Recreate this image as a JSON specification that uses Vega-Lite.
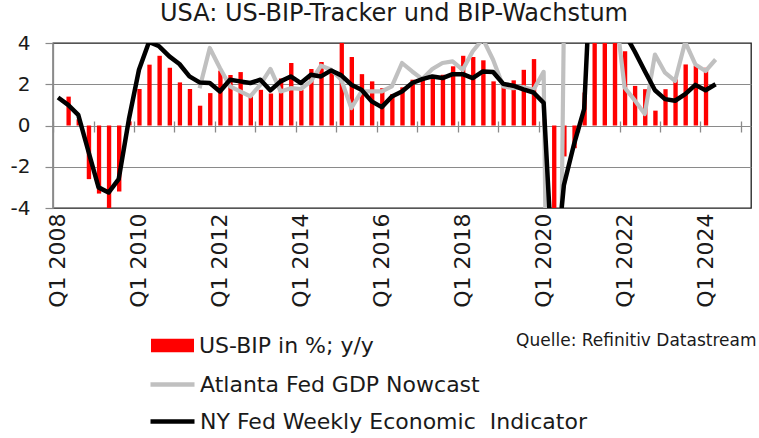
{
  "$schema": "https://vega.github.io/schema/vega-lite/v6.json",
  "width": 698,
  "height": 165,
  "autosize": {"type": "none"},
  "padding": {"left": 53, "top": 43, "right": 8, "bottom": 230},
  "background": "white",
  "config": {
    "font": "DejaVu Sans",
    "view": {"stroke": "#1e1e1e", "strokeWidth": 1.3},
    "axis": {"labelFont": "DejaVu Sans", "titleFont": "DejaVu Sans"},
    "legend": {"labelFont": "DejaVu Sans"}
  },
  "title": {
    "text": "USA: US-BIP-Tracker und BIP-Wachstum",
    "font": "DejaVu Sans",
    "fontSize": 24,
    "fontWeight": "normal",
    "color": "#1a1a1a",
    "anchor": "middle",
    "dx": -8,
    "offset": 7
  },
  "data": {
    "values": [
      {"q": "2008-01-01", "gdp": null, "atl": null, "wei": 1.36},
      {"q": "2008-04-01", "gdp": 1.4, "atl": null, "wei": 1.0},
      {"q": "2008-07-01", "gdp": 0.3, "atl": null, "wei": 0.52},
      {"q": "2008-10-01", "gdp": -2.6, "atl": null, "wei": -1.26},
      {"q": "2009-01-01", "gdp": -3.3, "atl": null, "wei": -3.0},
      {"q": "2009-04-01", "gdp": -4.0, "atl": null, "wei": -3.25},
      {"q": "2009-07-01", "gdp": -3.2, "atl": null, "wei": -2.6},
      {"q": "2009-10-01", "gdp": 0.2, "atl": null, "wei": 0.3},
      {"q": "2010-01-01", "gdp": 1.77, "atl": null, "wei": 2.7},
      {"q": "2010-04-01", "gdp": 2.95, "atl": null, "wei": 4.05},
      {"q": "2010-07-01", "gdp": 3.38, "atl": null, "wei": 3.84},
      {"q": "2010-10-01", "gdp": 2.8, "atl": null, "wei": 3.35},
      {"q": "2011-01-01", "gdp": 2.09, "atl": null, "wei": 2.98},
      {"q": "2011-04-01", "gdp": 1.77, "atl": null, "wei": 2.38},
      {"q": "2011-07-01", "gdp": 0.96, "atl": 1.81, "wei": 2.09},
      {"q": "2011-10-01", "gdp": 1.57, "atl": 3.76, "wei": 2.06},
      {"q": "2012-01-01", "gdp": 2.66, "atl": 2.79, "wei": 1.65},
      {"q": "2012-04-01", "gdp": 2.45, "atl": 1.9, "wei": 2.22},
      {"q": "2012-07-01", "gdp": 2.59, "atl": 1.65, "wei": 2.14},
      {"q": "2012-10-01", "gdp": 1.5, "atl": 1.41, "wei": 2.06},
      {"q": "2013-01-01", "gdp": 1.73, "atl": 1.98, "wei": 2.22},
      {"q": "2013-04-01", "gdp": 1.55, "atl": 2.74, "wei": 1.7},
      {"q": "2013-07-01", "gdp": 2.28, "atl": 1.65, "wei": 2.14},
      {"q": "2013-10-01", "gdp": 3.03, "atl": 1.81, "wei": 2.38},
      {"q": "2014-01-01", "gdp": 1.73, "atl": 1.77, "wei": 2.06},
      {"q": "2014-04-01", "gdp": 2.74, "atl": 2.14, "wei": 2.46},
      {"q": "2014-07-01", "gdp": 3.08, "atl": 2.9, "wei": 2.38},
      {"q": "2014-10-01", "gdp": 2.54, "atl": 2.7, "wei": 2.67},
      {"q": "2015-01-01", "gdp": 4.0, "atl": 2.22, "wei": 2.43},
      {"q": "2015-04-01", "gdp": 3.32, "atl": 0.84, "wei": 1.98},
      {"q": "2015-07-01", "gdp": 2.49, "atl": 1.65, "wei": 1.73},
      {"q": "2015-10-01", "gdp": 2.14, "atl": 1.65, "wei": 1.17},
      {"q": "2016-01-01", "gdp": 1.81, "atl": 1.65, "wei": 0.89},
      {"q": "2016-04-01", "gdp": 1.52, "atl": 1.9, "wei": 1.41},
      {"q": "2016-07-01", "gdp": 1.85, "atl": 3.03, "wei": 1.65},
      {"q": "2016-10-01", "gdp": 2.22, "atl": 2.62, "wei": 2.06},
      {"q": "2017-01-01", "gdp": 2.22, "atl": 2.25, "wei": 2.25},
      {"q": "2017-04-01", "gdp": 2.38, "atl": 2.74, "wei": 2.38},
      {"q": "2017-07-01", "gdp": 2.46, "atl": 3.03, "wei": 2.3},
      {"q": "2017-10-01", "gdp": 2.87, "atl": 3.11, "wei": 2.49},
      {"q": "2018-01-01", "gdp": 3.38, "atl": 2.7, "wei": 2.49},
      {"q": "2018-04-01", "gdp": 3.32, "atl": 3.6, "wei": 2.3},
      {"q": "2018-07-01", "gdp": 3.16, "atl": 4.2, "wei": 2.62},
      {"q": "2018-10-01", "gdp": 2.14, "atl": 3.19, "wei": 2.59},
      {"q": "2019-01-01", "gdp": 1.86, "atl": 1.9, "wei": 2.02},
      {"q": "2019-04-01", "gdp": 2.19, "atl": 1.81, "wei": 1.93},
      {"q": "2019-07-01", "gdp": 2.7, "atl": 1.86, "wei": 1.75},
      {"q": "2019-10-01", "gdp": 3.22, "atl": 1.73, "wei": 1.6},
      {"q": "2020-01-01", "gdp": 0.3, "atl": 2.6, "wei": 1.1},
      {"q": "2020-04-01", "gdp": -9.1, "atl": -37, "wei": -8},
      {"q": "2020-07-01", "gdp": -1.5, "atl": 5, "wei": -2.9},
      {"q": "2020-10-01", "gdp": -1.1, "atl": 9, "wei": -0.9},
      {"q": "2021-01-01", "gdp": 1.6, "atl": 8, "wei": 0.8},
      {"q": "2021-04-01", "gdp": 12.2, "atl": 8, "wei": 11},
      {"q": "2021-07-01", "gdp": 4.9, "atl": 6, "wei": 7},
      {"q": "2021-10-01", "gdp": 5.4, "atl": 6, "wei": 5.5},
      {"q": "2022-01-01", "gdp": 3.6, "atl": 1.84, "wei": 4.47},
      {"q": "2022-04-01", "gdp": 1.92, "atl": 1.23, "wei": 3.6},
      {"q": "2022-07-01", "gdp": 1.76, "atl": 0.56, "wei": 2.64},
      {"q": "2022-10-01", "gdp": 0.72, "atl": 3.44, "wei": 1.71},
      {"q": "2023-01-01", "gdp": 1.76, "atl": 2.56, "wei": 1.28},
      {"q": "2023-04-01", "gdp": 2.24, "atl": 2.16, "wei": 1.2},
      {"q": "2023-07-01", "gdp": 2.96, "atl": 4.05, "wei": 1.52},
      {"q": "2023-10-01", "gdp": 2.9, "atl": 2.96, "wei": 1.97},
      {"q": "2024-01-01", "gdp": 2.8, "atl": 2.64, "wei": 1.71},
      {"q": "2024-04-01", "gdp": null, "atl": 3.2, "wei": 2.0}
    ]
  },
  "layer": [
    {
      "mark": {"type": "bar", "color": "#ff0000", "clip": true, "width": {"band": 0.53}},
      "encoding": {
        "x": {
          "field": "q", "type": "temporal", "timeUnit": "utcyearquarter", "bandPosition": 0.5,
          "scale": {"domain": [{"year": 2008, "month": 1, "date": 1, "utc": true}, {"year": 2025, "month": 4, "date": 1, "utc": true}]},
          "axis": {
            "orient": "bottom",
            "values": [
              {"year": 2008, "month": 1, "date": 1, "utc": true}, {"year": 2009, "month": 1, "date": 1, "utc": true},
              {"year": 2010, "month": 1, "date": 1, "utc": true}, {"year": 2011, "month": 1, "date": 1, "utc": true},
              {"year": 2012, "month": 1, "date": 1, "utc": true}, {"year": 2013, "month": 1, "date": 1, "utc": true},
              {"year": 2014, "month": 1, "date": 1, "utc": true}, {"year": 2015, "month": 1, "date": 1, "utc": true},
              {"year": 2016, "month": 1, "date": 1, "utc": true}, {"year": 2017, "month": 1, "date": 1, "utc": true},
              {"year": 2018, "month": 1, "date": 1, "utc": true}, {"year": 2019, "month": 1, "date": 1, "utc": true},
              {"year": 2020, "month": 1, "date": 1, "utc": true}, {"year": 2021, "month": 1, "date": 1, "utc": true},
              {"year": 2022, "month": 1, "date": 1, "utc": true}, {"year": 2023, "month": 1, "date": 1, "utc": true},
              {"year": 2024, "month": 1, "date": 1, "utc": true}, {"year": 2025, "month": 1, "date": 1, "utc": true}
            ],
            "offset": -87,
            "domain": false,
            "labels": false,
            "grid": false,
            "ticks": true,
            "tickSize": 11,
            "tickColor": "#8a8a8a",
            "tickWidth": 1.3,
            "title": null
          }
        },
        "y": {
          "field": "gdp", "type": "quantitative",
          "scale": {"domain": [-4, 4], "nice": false},
          "axis": {
            "values": [-4, -2, 0, 2, 4],
            "labelExpr": "datum.value < 0 ? '-' + abs(datum.value) : '' + datum.value",
            "title": null,
            "grid": true,
            "gridColor": "#8a8a8a",
            "gridOpacity": {"condition": {"test": "abs(datum.value) == 4", "value": 0}, "value": 1},
            "gridWidth": 1.2,
            "domainColor": "#8a8a8a",
            "domainWidth": 1.3,
            "tickColor": "#8a8a8a",
            "tickWidth": 1.2,
            "tickSize": 8,
            "labelFontSize": 20,
            "labelColor": "#1a1a1a",
            "labelPadding": 15
          }
        },
        "fill": {
          "datum": "US-BIP in %; y/y",
          "scale": {"range": ["#ff0000"]},
          "legend": {
            "orient": "none", "legendX": 98, "legendY": 281, "title": null, "padding": 0,
            "symbolType": "M-1,-0.31H1V0.31H-1Z", "symbolSize": 1849, "symbolStrokeWidth": 0,
            "labelFontSize": 22, "labelOffset": 5, "labelColor": "#1a1a1a", "labelLimit": 600
          }
        }
      }
    },
    {
      "mark": {"type": "line", "clip": true, "strokeWidth": 4.2, "strokeJoin": "round"},
      "encoding": {
        "x": {
          "field": "q", "type": "temporal", "timeUnit": "utcyearquarter", "bandPosition": 0.5,
          "axis": {
            "orient": "bottom",
            "values": [
              {"year": 2008, "month": 2, "date": 15, "utc": true}, {"year": 2010, "month": 2, "date": 15, "utc": true},
              {"year": 2012, "month": 2, "date": 15, "utc": true}, {"year": 2014, "month": 2, "date": 15, "utc": true},
              {"year": 2016, "month": 2, "date": 15, "utc": true}, {"year": 2018, "month": 2, "date": 15, "utc": true},
              {"year": 2020, "month": 2, "date": 15, "utc": true}, {"year": 2022, "month": 2, "date": 15, "utc": true},
              {"year": 2024, "month": 2, "date": 15, "utc": true}
            ],
            "labelExpr": "'Q1 ' + utcFormat(datum.value, '%Y')",
            "labelAngle": -90,
            "labelAlign": "right",
            "labelBaseline": "middle",
            "labelFontSize": 22,
            "labelColor": "#1a1a1a",
            "labelPadding": 5,
            "labelFlush": false,
            "labelOverlap": false,
            "labelBound": false,
            "ticks": false,
            "domain": false,
            "grid": false,
            "title": "Quelle: Refinitiv Datastream",
            "titleFontSize": 17,
            "titleFontWeight": "normal",
            "titleColor": "#1a1a1a",
            "titleAnchor": "end",
            "titleAlign": "right",
            "titleBaseline": "top",
            "titlePadding": 25,
            "titleX": 703
          }
        },
        "y": {"field": "atl", "type": "quantitative", "title": null},
        "stroke": {
          "datum": "Atlanta Fed GDP Nowcast",
          "scale": {"domain": ["Atlanta Fed GDP Nowcast", "NY Fed Weekly Economic\u00a0 Indicator"], "range": ["#c0c0c0", "#000000"]},
          "legend": {
            "orient": "none", "legendX": 95, "legendY": 317, "title": null, "padding": 0,
            "symbolType": "stroke", "symbolSize": 1936, "symbolStrokeWidth": 4.5,
            "labelFontSize": 22, "labelOffset": 3, "labelColor": "#1a1a1a", "labelLimit": 600, "rowPadding": 1
          }
        }
      }
    },
    {
      "mark": {"type": "line", "clip": true, "strokeWidth": 4.5, "strokeJoin": "round"},
      "encoding": {
        "x": {"field": "q", "type": "temporal", "timeUnit": "utcyearquarter", "bandPosition": 0.5, "axis": null},
        "y": {"field": "wei", "type": "quantitative", "title": null},
        "stroke": {"datum": "NY Fed Weekly Economic\u00a0 Indicator"}
      }
    }
  ],
  "resolve": {"axis": {"x": "independent"}}
}
